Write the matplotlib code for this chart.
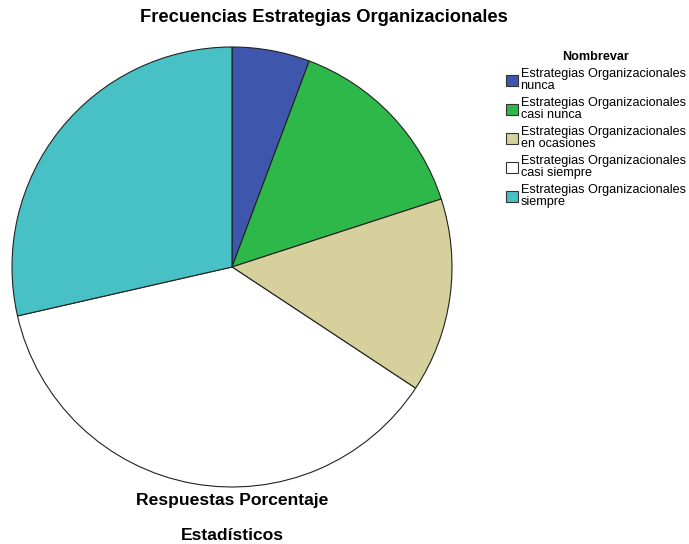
import matplotlib.pyplot as plt
from matplotlib.patches import Patch

plt.rcParams['font.family'] = ['Liberation Sans', 'DejaVu Sans']

categorias = [
    "Estrategias Organizacionales\nnunca",
    "Estrategias Organizacionales\ncasi nunca",
    "Estrategias Organizacionales\nen ocasiones",
    "Estrategias Organizacionales\ncasi siempre",
    "Estrategias Organizacionales\nsiempre",
]
porcentajes = [5.71, 14.29, 14.29, 37.14, 28.57]
colores = ["#3e57ad", "#2fb84a", "#d5d09c", "#ffffff", "#48c1c6"]

fig = plt.figure(figsize=(6.89, 5.44), dpi=100)
W, H = 689, 544

# pie centred around (232, 267) px with radius 220 px
ax = fig.add_axes([12 / W, (H - 487) / H, 440 / W, 440 / H])
ax.pie(porcentajes, colors=colores, startangle=90, counterclock=False,
       wedgeprops=dict(edgecolor="#222222", linewidth=0.8))
ax.set_xlim(-1.0, 1.0)
ax.set_ylim(-1.0, 1.0)
ax.set_aspect("equal")

fig.text(324 / W, 1 - 18 / H, "Frecuencias Estrategias Organizacionales",
         ha="center", va="center", fontsize=13.2, fontweight="bold")
fig.text(232 / W, 1 - 500 / H, "Respuestas Porcentaje",
         ha="center", va="center", fontsize=12.6, fontweight="bold")
fig.text(232 / W, 1 - 535 / H, "Estadísticos",
         ha="center", va="center", fontsize=12.6, fontweight="bold")

handles = [Patch(facecolor=c, edgecolor="#333333", linewidth=0.8) for c in colores]
leg = fig.legend(handles, categorias, loc="upper left",
                 bbox_to_anchor=(506 / W, 1 - 51 / H), frameon=False,
                 fontsize=9.1, title="Nombrevar",
                 title_fontproperties=dict(weight="bold", size=9.1),
                 handlelength=0.95, handleheight=0.95, handletextpad=0.2,
                 labelspacing=0.4, borderaxespad=0, borderpad=0)
for t in leg.get_texts():
    t.set_linespacing(1.0)

fig.savefig("out.png", dpi=100)
